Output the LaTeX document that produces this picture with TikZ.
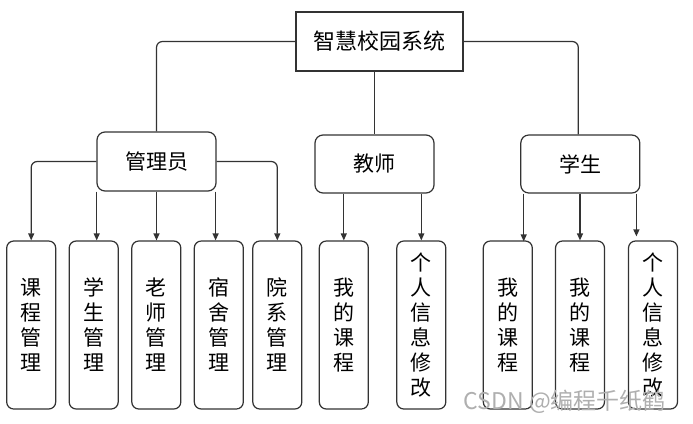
\documentclass[tikz,border=0pt]{standalone}
\usepackage{fontspec}
\newfontfamily\cjk{Noto Sans CJK SC}
\usetikzlibrary{arrows.meta}
\definecolor{linec}{RGB}{51,51,51}
\definecolor{wmark}{RGB}{175,175,175}
\begin{document}
\begin{tikzpicture}[x=1pt,y=-1pt,
  every node/.style={font=\cjk\fontsize{21}{25}\selectfont, text=black, inner sep=0pt},
  rootbox/.style={draw=linec, line width=1.2pt, minimum width=167pt, minimum height=59pt},
  midbox/.style={draw=linec, line width=1.2pt, rounded corners=8pt, minimum width=119pt, minimum height=58pt},
  leafbox/.style={draw=linec, line width=1.2pt, rounded corners=7pt, minimum width=49pt, minimum height=168pt, align=center},
  link/.style={draw=linec, line width=1.2pt, rounded corners=6pt},
  arr/.style={link, -{Triangle[length=7pt,width=6pt]}}
]
\useasboundingbox (0,0) rectangle (693,423);
\fill[white] (0,0) rectangle (693,423);

\node[rootbox, font=\cjk\fontsize{22}{26}\selectfont] (root) at (379.5,41.5) {智慧校园系统};
\node[midbox, minimum height=59pt] (mgr) at (156.5,161.5) {管理员};
\node[midbox] (tea) at (374.5,164) {教师};
\node[midbox] (stu) at (580.3,164) {学生};

\node[leafbox] (b1) at (31.2,325) {课\\程\\管\\理};
\node[leafbox] (b2) at (93.7,325) {学\\生\\管\\理};
\node[leafbox] (b3) at (156.3,325) {老\\师\\管\\理};
\node[leafbox] (b4) at (218.8,325) {宿\\舍\\管\\理};
\node[leafbox] (b5) at (277.3,325) {院\\系\\管\\理};
\node[leafbox] (b6) at (343.8,325) {我\\的\\课\\程};
\node[leafbox] (b7) at (421.3,325) {个\\人\\信\\息\\修\\改};
\node[leafbox] (b8) at (507.8,325) {我\\的\\课\\程};
\node[leafbox] (b9) at (580,325) {我\\的\\课\\程};
\node[leafbox] (b10) at (653,325) {个\\人\\信\\息\\修\\改};

% root links
\draw[link] (root.west) -| (mgr.north);
\draw[link] (tea.north |- root.south) -- (tea.north);
\draw[link] (root.east) -| ([xshift=-2pt]stu.north);

% manager links
\draw[arr] (mgr.west) -| (b1.north);
\draw[arr] (mgr.east) -| (b5.north);
\draw[arr] ([xshift=0.3pt]mgr.south west) -- ([xshift=0.3pt]mgr.south west |- b2.north);
\draw[arr] (mgr.south) -- (mgr.south |- b3.north);
\draw[arr] ([xshift=-1pt]mgr.south east) -- ([xshift=-1pt]mgr.south east |- b4.north);

% teacher links
\draw[arr] (b6.north |- tea.south) -- (b6.north);
\draw[arr] (b7.north |- tea.south) -- (b7.north);

% student links
\draw[arr] ([xshift=3.5pt]stu.south west) -- ([xshift=3.5pt,yshift=-1pt]stu.south west |- b8.north);
\draw[arr] (b9.north |- stu.south) -- (b9.north);
\draw[arr] ([xshift=-4pt]stu.south east) -- ([xshift=-4pt,yshift=4pt]stu.south east |- b10.north);

% watermark
\node[text=wmark, font=\cjk\fontsize{23}{27}\selectfont] (wm) at (564.7,401.5) {CSDN @编程千纸鹤};
\end{tikzpicture}
\end{document}
